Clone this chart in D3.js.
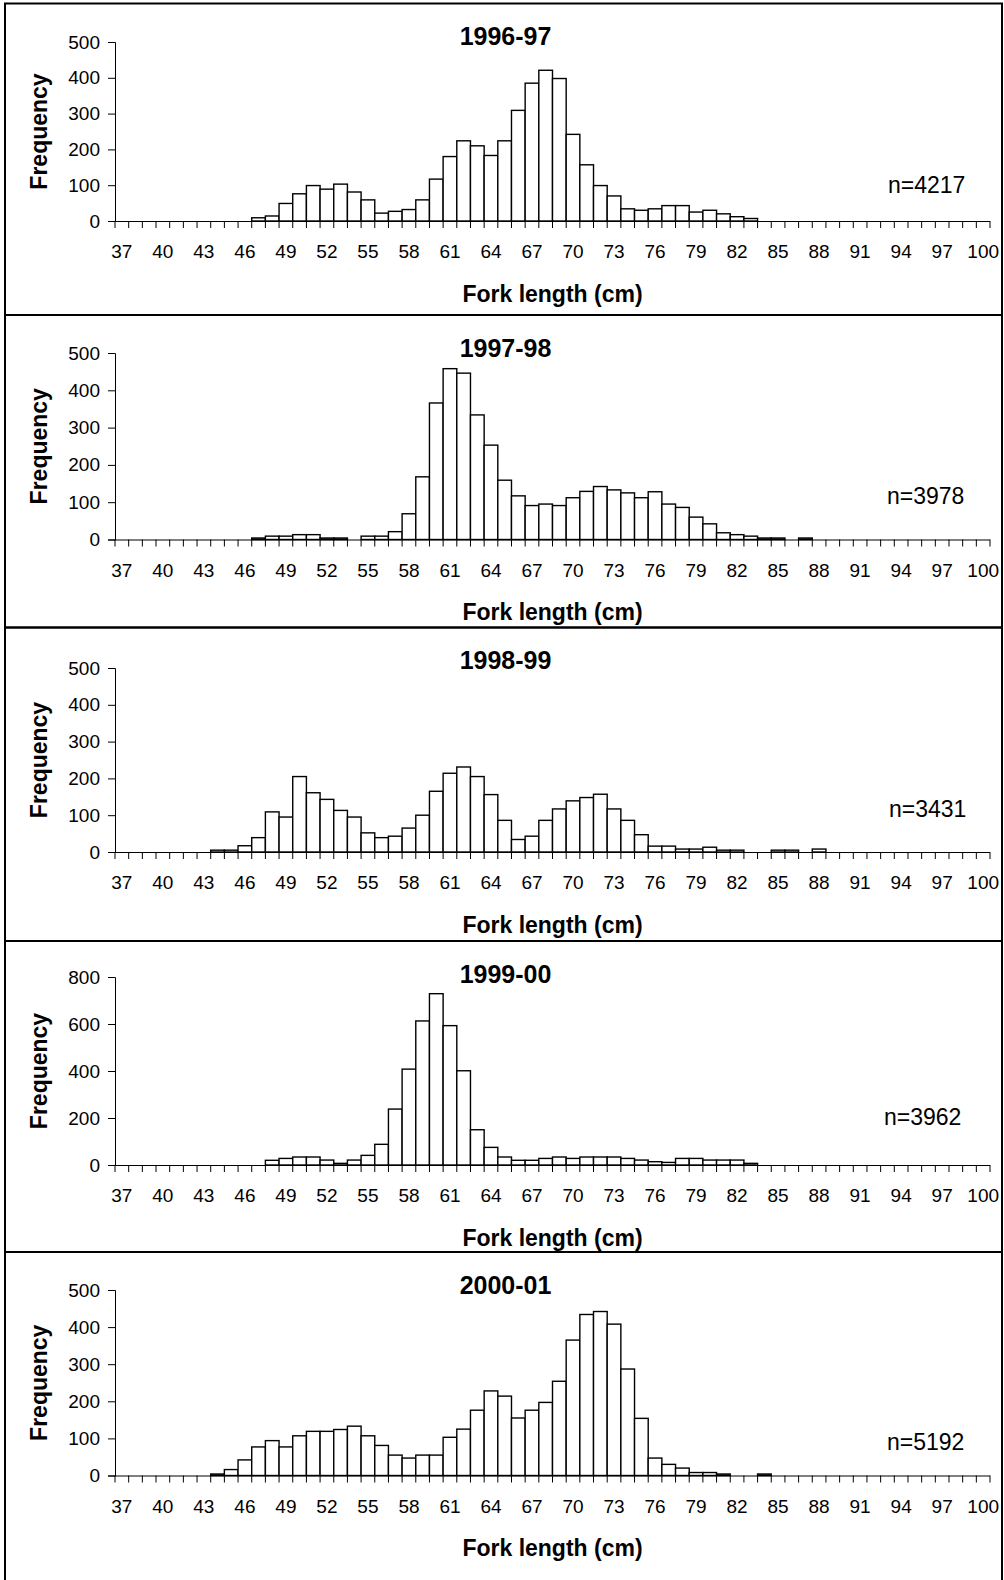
<!DOCTYPE html>
<html>
<head>
<meta charset="utf-8">
<script src="https://cdn.jsdelivr.net/npm/d3@7"></script>
<style>
  html, body { margin: 0; padding: 0; background: #fff; }
  svg { display: block; }
  text { font-family: "Liberation Sans", Arial, sans-serif; fill: #000; }
</style>
</head>
<body>
<svg id="chart" width="1004" height="1580"></svg>
<script>
// Fork length classes (cm)
const lengths = [37, 38, 39, 40, 41, 42, 43, 44, 45, 46, 47, 48, 49, 50, 51, 52,
  53, 54, 55, 56, 57, 58, 59, 60, 61, 62, 63, 64, 65, 66, 67, 68,
  69, 70, 71, 72, 73, 74, 75, 76, 77, 78, 79, 80, 81, 82, 83, 84,
  85, 86, 87, 88, 89, 90, 91, 92, 93, 94, 95, 96, 97, 98, 99, 100];

const tickLabels = [37, 40, 43, 46, 49, 52, 55, 58, 61, 64, 67, 70, 73, 76, 79, 82, 85, 88, 91, 94, 97, 100];

const seasons = ["1996-97", "1997-98", "1998-99", "1999-00", "2000-01"];
const sampleSizes = [4217, 3978, 3431, 3962, 5192];
const yMaxima = [500, 500, 500, 800, 500];
const yTickSteps = [100, 100, 100, 200, 100];

// Frequency per length class, 37 cm ... 100 cm
const freq1996 = [0, 0, 0, 0, 0, 0, 0, 0, 0, 0,
  9, 14, 49, 76, 99, 89, 103, 81, 59, 22, 27, 32, 59, 117, 180, 224, 210, 183, 224, 309,
  385, 421, 398, 242, 157, 99, 70, 34, 30, 34, 43, 43, 25, 30, 20, 12, 7,
  0, 0, 0, 0, 0, 0, 0, 0, 0, 0, 0, 0, 0, 0, 0, 0, 0];

const freq1997 = [0, 0, 0, 0, 0, 0, 0, 0, 0, 0,
  4, 9, 9, 13, 13, 4, 4, 0, 9, 9, 21, 69, 168, 366, 458, 446, 334, 253, 159, 117,
  91, 95, 91, 112, 129, 142, 133, 125, 112, 128, 95, 86, 60, 42, 18, 13, 9, 4, 4, 0, 4,
  0, 0, 0, 0, 0, 0, 0, 0, 0, 0, 0, 0, 0];

const freq1998 = [0, 0, 0, 0, 0, 0, 0,
  5, 5, 17, 39, 109, 95, 205, 161, 143, 113, 95, 52, 39, 43, 65, 100, 165, 214, 231, 205,
  156, 86, 34, 43, 86, 117, 139, 148, 157, 117, 86, 47, 16, 16, 8, 8, 13, 5, 5, 0, 0,
  5, 5, 0, 8,
  0, 0, 0, 0, 0, 0, 0, 0, 0, 0, 0, 0];

const freq1999 = [0, 0, 0, 0, 0, 0, 0, 0, 0, 0, 0,
  20, 28, 34, 34, 21, 7, 21, 41, 88, 238, 408, 613, 729, 593, 401, 150, 75, 34, 20, 20,
  28, 34, 28, 34, 34, 34, 28, 21, 14, 11, 28, 28, 21, 21, 21, 7,
  0, 0, 0, 0, 0, 0, 0, 0, 0, 0, 0, 0, 0, 0, 0, 0, 0];

const freq2000 = [0, 0, 0, 0, 0, 0, 0,
  4, 16, 42, 77, 94, 77, 107, 119, 119, 124, 133, 107, 81, 55, 47, 55, 55, 103, 125, 176,
  228, 214, 155, 176, 197, 254, 365, 434, 442, 408, 287, 154, 47, 30, 20, 8, 8, 4, 0, 0, 4,
  0, 0, 0, 0, 0, 0, 0, 0, 0, 0, 0, 0, 0, 0, 0, 0];

const seriesList = [freq1996, freq1997, freq1998, freq1999, freq2000];

// Panel frames and plot areas (pixels)
const frames = [
  { top: 3.5, bottom: 315 },
  { top: 315, bottom: 627.5 },
  { top: 627.5, bottom: 941 },
  { top: 941, bottom: 1252 },
  { top: 1252, bottom: 1590 }
];
const plotTops = [42, 353, 668, 977, 1290];
const plotBases = [221, 539.5, 852, 1165, 1475.5];
const nLabelPos = [[888, 193], [887, 504], [889, 817], [884, 1125], [887, 1450]];

const plotLeft = 115, plotRight = 990;
const frameLeft = 5, frameRight = 1002;

const svg = d3.select("#chart");

const x = d3.scaleBand().domain(lengths).range([plotLeft, plotRight]).padding(0);

seriesList.forEach((values, i) => {
  const g = svg.append("g").attr("class", "panel");
  const f = frames[i];
  const y0 = plotBases[i];
  const yTop = plotTops[i];

  // frame
  g.append("rect")
    .attr("x", frameLeft).attr("y", f.top)
    .attr("width", frameRight - frameLeft).attr("height", f.bottom - f.top)
    .attr("fill", "none").attr("stroke", "#000").attr("stroke-width", 2);

  const y = d3.scaleLinear().domain([0, yMaxima[i]]).range([y0, yTop]);

  // bars
  g.append("g").selectAll("rect")
    .data(lengths.map((d, k) => ({ len: d, v: values[k] })).filter(d => d.v > 0))
    .join("rect")
    .attr("x", d => x(d.len))
    .attr("y", d => y(d.v))
    .attr("width", x.bandwidth())
    .attr("height", d => y(0) - y(d.v))
    .attr("fill", "#fff")
    .attr("stroke", "#000")
    .attr("stroke-width", 1.4);

  // y axis
  const yAxis = d3.axisLeft(y)
    .tickValues(d3.range(0, yMaxima[i] + 1, yTickSteps[i]))
    .tickSize(7).tickPadding(8).tickFormat(d3.format("d"));
  const ya = g.append("g").attr("transform", `translate(${plotLeft},0)`).call(yAxis);
  ya.select(".domain").attr("stroke", "#000").attr("stroke-width", 1);
  ya.selectAll(".tick line").attr("stroke", "#000").attr("stroke-width", 1);
  ya.selectAll(".tick text").attr("font-size", 19).attr("font-family", "Liberation Sans, Arial, sans-serif").attr("fill", "#000");

  // x axis: labels every third class
  const xAxis = d3.axisBottom(x).tickValues(tickLabels).tickSize(0).tickSizeOuter(0);
  const xa = g.append("g").attr("transform", `translate(0,${y0})`).call(xAxis);
  xa.select(".domain").attr("stroke", "#000").attr("stroke-width", 1)
    .attr("d", `M${plotLeft},0.5H${plotRight}`);
  xa.selectAll(".tick text")
    .attr("font-size", 19).attr("font-family", "Liberation Sans, Arial, sans-serif").attr("fill", "#000")
    .attr("y", 37).attr("dy", 0);

  // tick marks between classes
  const bounds = lengths.map(d => x(d)).concat([x.range()[1]]);
  g.append("g").selectAll("line")
    .data(bounds)
    .join("line")
    .attr("x1", d => d).attr("x2", d => d)
    .attr("y1", y0).attr("y2", y0 + 7)
    .attr("stroke", "#000").attr("stroke-width", 1);

  // axis titles
  g.append("text")
    .attr("transform", `translate(46.5,${(yTop + y0) / 2}) rotate(-90)`)
    .attr("text-anchor", "middle")
    .attr("font-size", 23).attr("font-weight", "bold")
    .text("Frequency");

  g.append("text")
    .attr("x", (plotLeft + plotRight) / 2).attr("y", y0 + 80.5)
    .attr("text-anchor", "middle")
    .attr("font-size", 23).attr("font-weight", "bold")
    .text("Fork length (cm)");

  // season title
  g.append("text")
    .attr("x", (frameLeft + frameRight) / 2 + 2).attr("y", f.top + 41.5)
    .attr("text-anchor", "middle")
    .attr("font-size", 25).attr("font-weight", "bold")
    .text(seasons[i]);

  // sample size
  g.append("text")
    .attr("x", nLabelPos[i][0]).attr("y", nLabelPos[i][1])
    .attr("font-size", 23)
    .text("n=" + sampleSizes[i]);
});
</script>
</body>
</html>
